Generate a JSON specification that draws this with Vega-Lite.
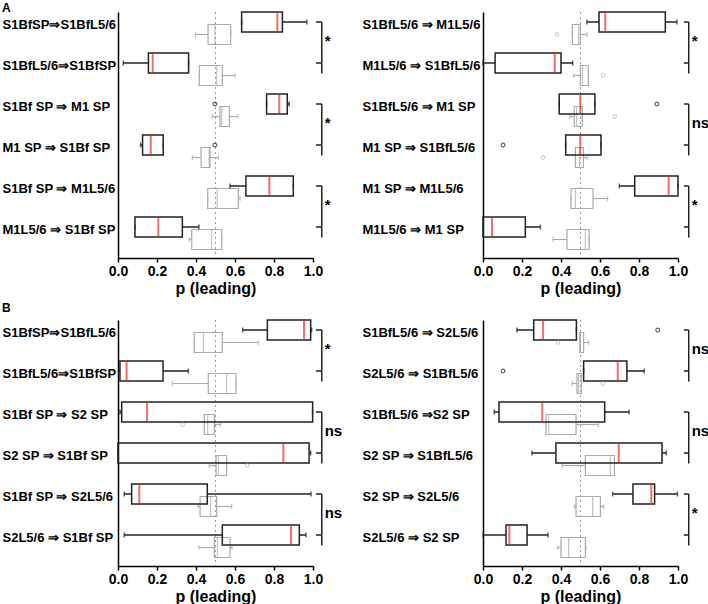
{
 "$schema": "https://vega.github.io/schema/vega-lite/v6.json",
 "padding": {"left": 2, "top": 2, "right": 0, "bottom": 0},
 "background": "white",
 "config": {
  "view": {"stroke": null},
  "font": "Liberation Sans",
  "axisX": {"domainColor": "#000", "domainWidth": 1.5, "tickColor": "#000", "tickWidth": 1.5, "tickSize": 4, "labelFontSize": 14, "labelFontWeight": "bold", "labelColor": "#000", "labelPadding": 2, "labelFlush": false, "values": [0, 0.2, 0.4, 0.6, 0.8, 1.0], "format": ".1f", "grid": false, "titleFontSize": 16, "titleFontWeight": "bold", "titleColor": "#000", "titlePadding": 2},
  "axisY": {"domainColor": "#000", "domainWidth": 1.5, "ticks": false, "tickSize": 0, "labelAlign": "left", "labelFontSize": 13, "labelFontWeight": "bold", "labelColor": "#000", "labelOffset": -8, "grid": false}
 },
 "datasets": {
  "chance": [{"p": 0.5}],
  "boxes": [
   {"panel":"A1","cond":"S1BfSP⇒S1BfL5/6","kind":"o","lo":0.634,"q1":0.634,"med":0.817,"q3":0.843,"hi":0.968},
   {"panel":"A1","cond":"S1BfSP⇒S1BfL5/6","kind":"s","lo":0.398,"q1":0.462,"med":0.497,"q3":0.578,"hi":0.578},
   {"panel":"A1","cond":"S1BfL5/6⇒S1BfSP","kind":"o","lo":0.027,"q1":0.156,"med":0.178,"q3":0.362,"hi":0.362},
   {"panel":"A1","cond":"S1BfL5/6⇒S1BfSP","kind":"s","lo":0.417,"q1":0.417,"med":0.506,"q3":0.535,"hi":0.600},
   {"panel":"A1","cond":"S1Bf SP ⇒ M1 SP","kind":"o","lo":0.762,"q1":0.762,"med":0.827,"q3":0.868,"hi":0.878},
   {"panel":"A1","cond":"S1Bf SP ⇒ M1 SP","kind":"s","lo":0.482,"q1":0.523,"med":0.532,"q3":0.571,"hi":0.615},
   {"panel":"A1","cond":"M1 SP ⇒ S1Bf SP","kind":"o","lo":0.116,"q1":0.126,"med":0.168,"q3":0.232,"hi":0.232},
   {"panel":"A1","cond":"M1 SP ⇒ S1Bf SP","kind":"s","lo":0.381,"q1":0.426,"med":0.467,"q3":0.472,"hi":0.515},
   {"panel":"A1","cond":"S1Bf SP ⇒ M1L5/6","kind":"o","lo":0.574,"q1":0.656,"med":0.776,"q3":0.899,"hi":0.899},
   {"panel":"A1","cond":"S1Bf SP ⇒ M1L5/6","kind":"s","lo":0.460,"q1":0.460,"med":0.509,"q3":0.617,"hi":0.626},
   {"panel":"A1","cond":"M1L5/6 ⇒ S1Bf SP","kind":"o","lo":0.087,"q1":0.087,"med":0.207,"q3":0.330,"hi":0.415},
   {"panel":"A1","cond":"M1L5/6 ⇒ S1Bf SP","kind":"s","lo":0.366,"q1":0.378,"med":0.480,"q3":0.532,"hi":0.532},

   {"panel":"A2","cond":"S1BfL5/6 ⇒ M1L5/6","kind":"o","lo":0.533,"q1":0.595,"med":0.627,"q3":0.935,"hi":0.995},
   {"panel":"A2","cond":"S1BfL5/6 ⇒ M1L5/6","kind":"s","lo":0.458,"q1":0.458,"med":0.490,"q3":0.499,"hi":0.533},
   {"panel":"A2","cond":"M1L5/6 ⇒ S1BfL5/6","kind":"o","lo":0.0,"q1":0.062,"med":0.368,"q3":0.400,"hi":0.460},
   {"panel":"A2","cond":"M1L5/6 ⇒ S1BfL5/6","kind":"s","lo":0.465,"q1":0.499,"med":0.510,"q3":0.540,"hi":0.540},
   {"panel":"A2","cond":"S1BfL5/6 ⇒ M1 SP","kind":"o","lo":0.391,"q1":0.391,"med":0.499,"q3":0.574,"hi":0.574},
   {"panel":"A2","cond":"S1BfL5/6 ⇒ M1 SP","kind":"s","lo":0.444,"q1":0.468,"med":0.480,"q3":0.509,"hi":0.509},
   {"panel":"A2","cond":"M1 SP ⇒ S1BfL5/6","kind":"o","lo":0.424,"q1":0.424,"med":0.499,"q3":0.605,"hi":0.605},
   {"panel":"A2","cond":"M1 SP ⇒ S1BfL5/6","kind":"s","lo":0.474,"q1":0.474,"med":0.495,"q3":0.515,"hi":0.533},
   {"panel":"A2","cond":"M1 SP ⇒ M1L5/6","kind":"o","lo":0.699,"q1":0.778,"med":0.952,"q3":1.0,"hi":1.0},
   {"panel":"A2","cond":"M1 SP ⇒ M1L5/6","kind":"s","lo":0.451,"q1":0.451,"med":0.474,"q3":0.564,"hi":0.639},
   {"panel":"A2","cond":"M1L5/6 ⇒ M1 SP","kind":"o","lo":0.0,"q1":0.0,"med":0.046,"q3":0.217,"hi":0.294},
   {"panel":"A2","cond":"M1L5/6 ⇒ M1 SP","kind":"s","lo":0.359,"q1":0.431,"med":0.525,"q3":0.544,"hi":0.544},

   {"panel":"B1","cond":"S1BfSP⇒S1BfL5/6","kind":"o","lo":0.639,"q1":0.766,"med":0.954,"q3":0.988,"hi":0.993},
   {"panel":"B1","cond":"S1BfSP⇒S1BfL5/6","kind":"s","lo":0.391,"q1":0.391,"med":0.438,"q3":0.535,"hi":0.720},
   {"panel":"B1","cond":"S1BfL5/6⇒S1BfSP","kind":"o","lo":0.003,"q1":0.010,"med":0.044,"q3":0.231,"hi":0.361},
   {"panel":"B1","cond":"S1BfL5/6⇒S1BfSP","kind":"s","lo":0.279,"q1":0.463,"med":0.557,"q3":0.605,"hi":0.605},
   {"panel":"B1","cond":"S1Bf SP ⇒ S2 SP","kind":"o","lo":0.010,"q1":0.019,"med":0.149,"q3":0.998,"hi":0.998},
   {"panel":"B1","cond":"S1Bf SP ⇒ S2 SP","kind":"s","lo":0.443,"q1":0.443,"med":0.460,"q3":0.494,"hi":0.526},
   {"panel":"B1","cond":"S2 SP ⇒ S1Bf SP","kind":"o","lo":0.0,"q1":0.0,"med":0.848,"q3":0.980,"hi":0.988},
   {"panel":"B1","cond":"S2 SP ⇒ S1Bf SP","kind":"s","lo":0.468,"q1":0.503,"med":0.515,"q3":0.557,"hi":0.557},
   {"panel":"B1","cond":"S1Bf SP ⇒ S2L5/6","kind":"o","lo":0.032,"q1":0.070,"med":0.109,"q3":0.458,"hi":0.990},
   {"panel":"B1","cond":"S1Bf SP ⇒ S2L5/6","kind":"s","lo":0.410,"q1":0.421,"med":0.475,"q3":0.506,"hi":0.583},
   {"panel":"B1","cond":"S2L5/6 ⇒ S1Bf SP","kind":"o","lo":0.032,"q1":0.535,"med":0.887,"q3":0.930,"hi":0.964},
   {"panel":"B1","cond":"S2L5/6 ⇒ S1Bf SP","kind":"s","lo":0.415,"q1":0.494,"med":0.510,"q3":0.574,"hi":0.585},

   {"panel":"B2","cond":"S1BfL5/6 ⇒ S2L5/6","kind":"o","lo":0.174,"q1":0.260,"med":0.308,"q3":0.479,"hi":0.479},
   {"panel":"B2","cond":"S1BfL5/6 ⇒ S2L5/6","kind":"s","lo":0.496,"q1":0.496,"med":0.500,"q3":0.516,"hi":0.542},
   {"panel":"B2","cond":"S2L5/6 ⇒ S1BfL5/6","kind":"o","lo":0.516,"q1":0.516,"med":0.691,"q3":0.738,"hi":0.827},
   {"panel":"B2","cond":"S2L5/6 ⇒ S1BfL5/6","kind":"s","lo":0.458,"q1":0.482,"med":0.490,"q3":0.504,"hi":0.504},
   {"panel":"B2","cond":"S1BfL5/6 ⇒S2 SP","kind":"o","lo":0.058,"q1":0.082,"med":0.304,"q3":0.624,"hi":0.749},
   {"panel":"B2","cond":"S1BfL5/6 ⇒S2 SP","kind":"s","lo":0.323,"q1":0.323,"med":0.337,"q3":0.477,"hi":0.593},
   {"panel":"B2","cond":"S2 SP ⇒ S1BfL5/6","kind":"o","lo":0.251,"q1":0.374,"med":0.696,"q3":0.918,"hi":0.940},
   {"panel":"B2","cond":"S2 SP ⇒ S1BfL5/6","kind":"s","lo":0.407,"q1":0.525,"med":0.653,"q3":0.674,"hi":0.674},
   {"panel":"B2","cond":"S2 SP ⇒ S2L5/6","kind":"o","lo":0.665,"q1":0.769,"med":0.863,"q3":0.880,"hi":0.997},
   {"panel":"B2","cond":"S2 SP ⇒ S2L5/6","kind":"s","lo":0.469,"q1":0.477,"med":0.562,"q3":0.602,"hi":0.619},
   {"panel":"B2","cond":"S2L5/6 ⇒ S2 SP","kind":"o","lo":0.0,"q1":0.118,"med":0.135,"q3":0.226,"hi":0.333},
   {"panel":"B2","cond":"S2L5/6 ⇒ S2 SP","kind":"s","lo":0.383,"q1":0.400,"med":0.439,"q3":0.525,"hi":0.528}
  ],
  "outliers": [
   {"panel":"A1","cond":"S1Bf SP ⇒ M1 SP","kind":"o","p":0.497},
   {"panel":"A1","cond":"M1 SP ⇒ S1Bf SP","kind":"o","p":0.497},
   {"panel":"A2","cond":"S1BfL5/6 ⇒ M1L5/6","kind":"s","p":0.379},
   {"panel":"A2","cond":"M1L5/6 ⇒ S1BfL5/6","kind":"s","p":0.615},
   {"panel":"A2","cond":"S1BfL5/6 ⇒ M1 SP","kind":"o","p":0.892},
   {"panel":"A2","cond":"S1BfL5/6 ⇒ M1 SP","kind":"s","p":0.675},
   {"panel":"A2","cond":"M1 SP ⇒ S1BfL5/6","kind":"o","p":0.103},
   {"panel":"A2","cond":"M1 SP ⇒ S1BfL5/6","kind":"s","p":0.308},
   {"panel":"B1","cond":"S1Bf SP ⇒ S2 SP","kind":"s","p":0.332},
   {"panel":"B1","cond":"S2 SP ⇒ S1Bf SP","kind":"s","p":0.663},
   {"panel":"B2","cond":"S1BfL5/6 ⇒ S2L5/6","kind":"o","p":0.896},
   {"panel":"B2","cond":"S1BfL5/6 ⇒ S2L5/6","kind":"s","p":0.385},
   {"panel":"B2","cond":"S2L5/6 ⇒ S1BfL5/6","kind":"o","p":0.103},
   {"panel":"B2","cond":"S2L5/6 ⇒ S1BfL5/6","kind":"s","p":0.615}
  ],
  "brackets": [
   {"panel":"A1","top":"S1BfSP⇒S1BfL5/6","bottom":"S1BfL5/6⇒S1BfSP","sig":"*"},
   {"panel":"A1","top":"S1Bf SP ⇒ M1 SP","bottom":"M1 SP ⇒ S1Bf SP","sig":"*"},
   {"panel":"A1","top":"S1Bf SP ⇒ M1L5/6","bottom":"M1L5/6 ⇒ S1Bf SP","sig":"*"},
   {"panel":"A2","top":"S1BfL5/6 ⇒ M1L5/6","bottom":"M1L5/6 ⇒ S1BfL5/6","sig":"*"},
   {"panel":"A2","top":"S1BfL5/6 ⇒ M1 SP","bottom":"M1 SP ⇒ S1BfL5/6","sig":"ns"},
   {"panel":"A2","top":"M1 SP ⇒ M1L5/6","bottom":"M1L5/6 ⇒ M1 SP","sig":"*"},
   {"panel":"B1","top":"S1BfSP⇒S1BfL5/6","bottom":"S1BfL5/6⇒S1BfSP","sig":"*"},
   {"panel":"B1","top":"S1Bf SP ⇒ S2 SP","bottom":"S2 SP ⇒ S1Bf SP","sig":"ns"},
   {"panel":"B1","top":"S1Bf SP ⇒ S2L5/6","bottom":"S2L5/6 ⇒ S1Bf SP","sig":"ns"},
   {"panel":"B2","top":"S1BfL5/6 ⇒ S2L5/6","bottom":"S2L5/6 ⇒ S1BfL5/6","sig":"ns"},
   {"panel":"B2","top":"S1BfL5/6 ⇒S2 SP","bottom":"S2 SP ⇒ S1BfL5/6","sig":"ns"},
   {"panel":"B2","top":"S2 SP ⇒ S2L5/6","bottom":"S2L5/6 ⇒ S2 SP","sig":"*"}
  ]
 },
 "columns": 2,
 "spacing": {"row": 62, "column": 170},
 "bounds": "flush",
 "concat": [
  {
   "width": 195, "height": 246,
   "title": {"text": "A", "anchor": "start", "fontSize": 12, "fontWeight": "bold", "offset": -4, "frame": "bounds", "color": "#000"},
   "layer": [
    {"data": {"name": "chance"}, "mark": {"type": "rule", "color": "#9a9a9a", "strokeDash": [2, 3], "strokeWidth": 1}, "encoding": {"x": {"field": "p", "type": "quantitative", "scale": {"domain": [0, 1], "nice": false}, "title": "p (leading)"}}},
    {"data": {"name": "boxes"}, "transform": [{"filter": "datum.panel === 'A1'"}],
     "encoding": {"y": {"field": "cond", "type": "nominal", "title": null, "scale": {"domain": ["S1BfSP⇒S1BfL5/6", "S1BfL5/6⇒S1BfSP", "S1Bf SP ⇒ M1 SP", "M1 SP ⇒ S1Bf SP", "S1Bf SP ⇒ M1L5/6", "M1L5/6 ⇒ S1Bf SP"], "paddingInner": 0, "paddingOuter": 0}, "axis": {"labelPadding": 116}}},
     "layer": [
      {"transform": [{"filter": "datum.kind === 's'"}], "layer": [
       {"mark": {"type": "rule", "color": "#aaa", "strokeWidth": 1.2, "yOffset": 2}, "encoding": {"x": {"field": "lo", "type": "quantitative"}, "x2": {"field": "q1"}}},
       {"mark": {"type": "rule", "color": "#aaa", "strokeWidth": 1.2, "yOffset": 2}, "encoding": {"x": {"field": "q3", "type": "quantitative"}, "x2": {"field": "hi"}}},
       {"transform": [{"fold": ["lo", "hi"], "as": ["end", "v"]}], "mark": {"type": "tick", "color": "#aaa", "size": 5, "thickness": 1.2, "yOffset": 2}, "encoding": {"x": {"field": "v", "type": "quantitative"}}},
       {"mark": {"type": "bar", "filled": false, "color": "#aaa", "strokeWidth": 1.2, "size": 20, "yOffset": 2}, "encoding": {"x": {"field": "q1", "type": "quantitative"}, "x2": {"field": "q3"}}},
       {"mark": {"type": "tick", "color": "#aaa", "size": 20, "thickness": 1.2, "yOffset": 2}, "encoding": {"x": {"field": "med", "type": "quantitative"}}}
      ]},
      {"transform": [{"filter": "datum.kind === 'o'"}], "layer": [
       {"mark": {"type": "rule", "color": "#222", "strokeWidth": 1.5, "yOffset": -10.5}, "encoding": {"x": {"field": "lo", "type": "quantitative"}, "x2": {"field": "q1"}}},
       {"mark": {"type": "rule", "color": "#222", "strokeWidth": 1.5, "yOffset": -10.5}, "encoding": {"x": {"field": "q3", "type": "quantitative"}, "x2": {"field": "hi"}}},
       {"transform": [{"fold": ["lo", "hi"], "as": ["end", "v"]}], "mark": {"type": "tick", "color": "#222", "size": 5, "thickness": 1.5, "yOffset": -10.5}, "encoding": {"x": {"field": "v", "type": "quantitative"}}},
       {"mark": {"type": "bar", "filled": false, "color": "#222", "strokeWidth": 1.5, "size": 20, "yOffset": -10.5}, "encoding": {"x": {"field": "q1", "type": "quantitative"}, "x2": {"field": "q3"}}},
       {"mark": {"type": "tick", "color": "#e8302c", "size": 19, "thickness": 2, "yOffset": -10.5}, "encoding": {"x": {"field": "med", "type": "quantitative"}}}
      ]}
     ]},
    {"data": {"name": "outliers"}, "transform": [{"filter": "datum.panel === 'A1'"}],
     "encoding": {"y": {"field": "cond", "type": "nominal", "title": null}, "x": {"field": "p", "type": "quantitative"}},
     "layer": [
      {"transform": [{"filter": "datum.kind === 's'"}], "mark": {"type": "point", "shape": "circle", "filled": false, "color": "#aaa", "size": 14, "strokeWidth": 1, "yOffset": 2}},
      {"transform": [{"filter": "datum.kind === 'o'"}], "mark": {"type": "point", "shape": "circle", "filled": false, "color": "#222", "size": 14, "strokeWidth": 1.2, "yOffset": -10.5}}
     ]},
    {"data": {"name": "brackets"}, "transform": [{"filter": "datum.panel === 'A1'"}],
     "layer": [
      {"mark": {"type": "rule", "color": "#222", "strokeWidth": 1.5, "yOffset": -10.5}, "encoding": {"x": {"datum": 1.045}, "y": {"field": "top", "type": "nominal", "title": null}, "y2": {"field": "bottom"}}},
      {"transform": [{"fold": ["top", "bottom"], "as": ["end", "cond"]}], "mark": {"type": "rule", "color": "#222", "strokeWidth": 1.5, "yOffset": -10.5}, "encoding": {"x": {"datum": 1.015}, "x2": {"datum": 1.045}, "y": {"field": "cond", "type": "nominal", "title": null}}},
      {"mark": {"type": "text", "align": "left", "baseline": "middle", "fontSize": 15, "fontWeight": "bold", "color": "#000", "dy": 8}, "encoding": {"x": {"datum": 1.06}, "y": {"field": "top", "type": "nominal", "title": null}, "text": {"field": "sig"}}}
     ]}
   ]
  },
  {
   "width": 195, "height": 246,
   "layer": [
    {"data": {"name": "chance"}, "mark": {"type": "rule", "color": "#9a9a9a", "strokeDash": [2, 3], "strokeWidth": 1}, "encoding": {"x": {"field": "p", "type": "quantitative", "scale": {"domain": [0, 1], "nice": false}, "title": "p (leading)"}}},
    {"data": {"name": "boxes"}, "transform": [{"filter": "datum.panel === 'A2'"}],
     "encoding": {"y": {"field": "cond", "type": "nominal", "title": null, "scale": {"domain": ["S1BfL5/6 ⇒ M1L5/6", "M1L5/6 ⇒ S1BfL5/6", "S1BfL5/6 ⇒ M1 SP", "M1 SP ⇒ S1BfL5/6", "M1 SP ⇒ M1L5/6", "M1L5/6 ⇒ M1 SP"], "paddingInner": 0, "paddingOuter": 0}, "axis": {"labelPadding": 121}}},
     "layer": [
      {"transform": [{"filter": "datum.kind === 's'"}], "layer": [
       {"mark": {"type": "rule", "color": "#aaa", "strokeWidth": 1.2, "yOffset": 2}, "encoding": {"x": {"field": "lo", "type": "quantitative"}, "x2": {"field": "q1"}}},
       {"mark": {"type": "rule", "color": "#aaa", "strokeWidth": 1.2, "yOffset": 2}, "encoding": {"x": {"field": "q3", "type": "quantitative"}, "x2": {"field": "hi"}}},
       {"transform": [{"fold": ["lo", "hi"], "as": ["end", "v"]}], "mark": {"type": "tick", "color": "#aaa", "size": 5, "thickness": 1.2, "yOffset": 2}, "encoding": {"x": {"field": "v", "type": "quantitative"}}},
       {"mark": {"type": "bar", "filled": false, "color": "#aaa", "strokeWidth": 1.2, "size": 20, "yOffset": 2}, "encoding": {"x": {"field": "q1", "type": "quantitative"}, "x2": {"field": "q3"}}},
       {"mark": {"type": "tick", "color": "#aaa", "size": 20, "thickness": 1.2, "yOffset": 2}, "encoding": {"x": {"field": "med", "type": "quantitative"}}}
      ]},
      {"transform": [{"filter": "datum.kind === 'o'"}], "layer": [
       {"mark": {"type": "rule", "color": "#222", "strokeWidth": 1.5, "yOffset": -10.5}, "encoding": {"x": {"field": "lo", "type": "quantitative"}, "x2": {"field": "q1"}}},
       {"mark": {"type": "rule", "color": "#222", "strokeWidth": 1.5, "yOffset": -10.5}, "encoding": {"x": {"field": "q3", "type": "quantitative"}, "x2": {"field": "hi"}}},
       {"transform": [{"fold": ["lo", "hi"], "as": ["end", "v"]}], "mark": {"type": "tick", "color": "#222", "size": 5, "thickness": 1.5, "yOffset": -10.5}, "encoding": {"x": {"field": "v", "type": "quantitative"}}},
       {"mark": {"type": "bar", "filled": false, "color": "#222", "strokeWidth": 1.5, "size": 20, "yOffset": -10.5}, "encoding": {"x": {"field": "q1", "type": "quantitative"}, "x2": {"field": "q3"}}},
       {"mark": {"type": "tick", "color": "#e8302c", "size": 19, "thickness": 2, "yOffset": -10.5}, "encoding": {"x": {"field": "med", "type": "quantitative"}}}
      ]}
     ]},
    {"data": {"name": "outliers"}, "transform": [{"filter": "datum.panel === 'A2'"}],
     "encoding": {"y": {"field": "cond", "type": "nominal", "title": null}, "x": {"field": "p", "type": "quantitative"}},
     "layer": [
      {"transform": [{"filter": "datum.kind === 's'"}], "mark": {"type": "point", "shape": "circle", "filled": false, "color": "#aaa", "size": 14, "strokeWidth": 1, "yOffset": 2}},
      {"transform": [{"filter": "datum.kind === 'o'"}], "mark": {"type": "point", "shape": "circle", "filled": false, "color": "#222", "size": 14, "strokeWidth": 1.2, "yOffset": -10.5}}
     ]},
    {"data": {"name": "brackets"}, "transform": [{"filter": "datum.panel === 'A2'"}],
     "layer": [
      {"mark": {"type": "rule", "color": "#222", "strokeWidth": 1.5, "yOffset": -10.5}, "encoding": {"x": {"datum": 1.055}, "y": {"field": "top", "type": "nominal", "title": null}, "y2": {"field": "bottom"}}},
      {"transform": [{"fold": ["top", "bottom"], "as": ["end", "cond"]}], "mark": {"type": "rule", "color": "#222", "strokeWidth": 1.5, "yOffset": -10.5}, "encoding": {"x": {"datum": 1.03}, "x2": {"datum": 1.055}, "y": {"field": "cond", "type": "nominal", "title": null}}},
      {"mark": {"type": "text", "align": "left", "baseline": "middle", "fontSize": 15, "fontWeight": "bold", "color": "#000", "dy": 8}, "encoding": {"x": {"datum": 1.07}, "y": {"field": "top", "type": "nominal", "title": null}, "text": {"field": "sig"}}}
     ]}
   ]
  },
  {
   "width": 195, "height": 246,
   "title": {"text": "B", "anchor": "start", "fontSize": 12, "fontWeight": "bold", "offset": 4, "frame": "bounds", "color": "#000"},
   "layer": [
    {"data": {"name": "chance"}, "mark": {"type": "rule", "color": "#9a9a9a", "strokeDash": [2, 3], "strokeWidth": 1}, "encoding": {"x": {"field": "p", "type": "quantitative", "scale": {"domain": [0, 1], "nice": false}, "title": "p (leading)"}}},
    {"data": {"name": "boxes"}, "transform": [{"filter": "datum.panel === 'B1'"}],
     "encoding": {"y": {"field": "cond", "type": "nominal", "title": null, "scale": {"domain": ["S1BfSP⇒S1BfL5/6", "S1BfL5/6⇒S1BfSP", "S1Bf SP ⇒ S2 SP", "S2 SP ⇒ S1Bf SP", "S1Bf SP ⇒ S2L5/6", "S2L5/6 ⇒ S1Bf SP"], "paddingInner": 0, "paddingOuter": 0}, "axis": {"labelPadding": 116}}},
     "layer": [
      {"transform": [{"filter": "datum.kind === 's'"}], "layer": [
       {"mark": {"type": "rule", "color": "#aaa", "strokeWidth": 1.2, "yOffset": 2}, "encoding": {"x": {"field": "lo", "type": "quantitative"}, "x2": {"field": "q1"}}},
       {"mark": {"type": "rule", "color": "#aaa", "strokeWidth": 1.2, "yOffset": 2}, "encoding": {"x": {"field": "q3", "type": "quantitative"}, "x2": {"field": "hi"}}},
       {"transform": [{"fold": ["lo", "hi"], "as": ["end", "v"]}], "mark": {"type": "tick", "color": "#aaa", "size": 5, "thickness": 1.2, "yOffset": 2}, "encoding": {"x": {"field": "v", "type": "quantitative"}}},
       {"mark": {"type": "bar", "filled": false, "color": "#aaa", "strokeWidth": 1.2, "size": 20, "yOffset": 2}, "encoding": {"x": {"field": "q1", "type": "quantitative"}, "x2": {"field": "q3"}}},
       {"mark": {"type": "tick", "color": "#aaa", "size": 20, "thickness": 1.2, "yOffset": 2}, "encoding": {"x": {"field": "med", "type": "quantitative"}}}
      ]},
      {"transform": [{"filter": "datum.kind === 'o'"}], "layer": [
       {"mark": {"type": "rule", "color": "#222", "strokeWidth": 1.5, "yOffset": -10.5}, "encoding": {"x": {"field": "lo", "type": "quantitative"}, "x2": {"field": "q1"}}},
       {"mark": {"type": "rule", "color": "#222", "strokeWidth": 1.5, "yOffset": -10.5}, "encoding": {"x": {"field": "q3", "type": "quantitative"}, "x2": {"field": "hi"}}},
       {"transform": [{"fold": ["lo", "hi"], "as": ["end", "v"]}], "mark": {"type": "tick", "color": "#222", "size": 5, "thickness": 1.5, "yOffset": -10.5}, "encoding": {"x": {"field": "v", "type": "quantitative"}}},
       {"mark": {"type": "bar", "filled": false, "color": "#222", "strokeWidth": 1.5, "size": 20, "yOffset": -10.5}, "encoding": {"x": {"field": "q1", "type": "quantitative"}, "x2": {"field": "q3"}}},
       {"mark": {"type": "tick", "color": "#e8302c", "size": 19, "thickness": 2, "yOffset": -10.5}, "encoding": {"x": {"field": "med", "type": "quantitative"}}}
      ]}
     ]},
    {"data": {"name": "outliers"}, "transform": [{"filter": "datum.panel === 'B1'"}],
     "encoding": {"y": {"field": "cond", "type": "nominal", "title": null}, "x": {"field": "p", "type": "quantitative"}},
     "layer": [
      {"transform": [{"filter": "datum.kind === 's'"}], "mark": {"type": "point", "shape": "circle", "filled": false, "color": "#aaa", "size": 14, "strokeWidth": 1, "yOffset": 2}},
      {"transform": [{"filter": "datum.kind === 'o'"}], "mark": {"type": "point", "shape": "circle", "filled": false, "color": "#222", "size": 14, "strokeWidth": 1.2, "yOffset": -10.5}}
     ]},
    {"data": {"name": "brackets"}, "transform": [{"filter": "datum.panel === 'B1'"}],
     "layer": [
      {"mark": {"type": "rule", "color": "#222", "strokeWidth": 1.5, "yOffset": -10.5}, "encoding": {"x": {"datum": 1.045}, "y": {"field": "top", "type": "nominal", "title": null}, "y2": {"field": "bottom"}}},
      {"transform": [{"fold": ["top", "bottom"], "as": ["end", "cond"]}], "mark": {"type": "rule", "color": "#222", "strokeWidth": 1.5, "yOffset": -10.5}, "encoding": {"x": {"datum": 1.015}, "x2": {"datum": 1.045}, "y": {"field": "cond", "type": "nominal", "title": null}}},
      {"mark": {"type": "text", "align": "left", "baseline": "middle", "fontSize": 15, "fontWeight": "bold", "color": "#000", "dy": 8}, "encoding": {"x": {"datum": 1.06}, "y": {"field": "top", "type": "nominal", "title": null}, "text": {"field": "sig"}}}
     ]}
   ]
  },
  {
   "width": 195, "height": 246,
   "layer": [
    {"data": {"name": "chance"}, "mark": {"type": "rule", "color": "#9a9a9a", "strokeDash": [2, 3], "strokeWidth": 1}, "encoding": {"x": {"field": "p", "type": "quantitative", "scale": {"domain": [0, 1], "nice": false}, "title": "p (leading)"}}},
    {"data": {"name": "boxes"}, "transform": [{"filter": "datum.panel === 'B2'"}],
     "encoding": {"y": {"field": "cond", "type": "nominal", "title": null, "scale": {"domain": ["S1BfL5/6 ⇒ S2L5/6", "S2L5/6 ⇒ S1BfL5/6", "S1BfL5/6 ⇒S2 SP", "S2 SP ⇒ S1BfL5/6", "S2 SP ⇒ S2L5/6", "S2L5/6 ⇒ S2 SP"], "paddingInner": 0, "paddingOuter": 0}, "axis": {"labelPadding": 121}}},
     "layer": [
      {"transform": [{"filter": "datum.kind === 's'"}], "layer": [
       {"mark": {"type": "rule", "color": "#aaa", "strokeWidth": 1.2, "yOffset": 2}, "encoding": {"x": {"field": "lo", "type": "quantitative"}, "x2": {"field": "q1"}}},
       {"mark": {"type": "rule", "color": "#aaa", "strokeWidth": 1.2, "yOffset": 2}, "encoding": {"x": {"field": "q3", "type": "quantitative"}, "x2": {"field": "hi"}}},
       {"transform": [{"fold": ["lo", "hi"], "as": ["end", "v"]}], "mark": {"type": "tick", "color": "#aaa", "size": 5, "thickness": 1.2, "yOffset": 2}, "encoding": {"x": {"field": "v", "type": "quantitative"}}},
       {"mark": {"type": "bar", "filled": false, "color": "#aaa", "strokeWidth": 1.2, "size": 20, "yOffset": 2}, "encoding": {"x": {"field": "q1", "type": "quantitative"}, "x2": {"field": "q3"}}},
       {"mark": {"type": "tick", "color": "#aaa", "size": 20, "thickness": 1.2, "yOffset": 2}, "encoding": {"x": {"field": "med", "type": "quantitative"}}}
      ]},
      {"transform": [{"filter": "datum.kind === 'o'"}], "layer": [
       {"mark": {"type": "rule", "color": "#222", "strokeWidth": 1.5, "yOffset": -10.5}, "encoding": {"x": {"field": "lo", "type": "quantitative"}, "x2": {"field": "q1"}}},
       {"mark": {"type": "rule", "color": "#222", "strokeWidth": 1.5, "yOffset": -10.5}, "encoding": {"x": {"field": "q3", "type": "quantitative"}, "x2": {"field": "hi"}}},
       {"transform": [{"fold": ["lo", "hi"], "as": ["end", "v"]}], "mark": {"type": "tick", "color": "#222", "size": 5, "thickness": 1.5, "yOffset": -10.5}, "encoding": {"x": {"field": "v", "type": "quantitative"}}},
       {"mark": {"type": "bar", "filled": false, "color": "#222", "strokeWidth": 1.5, "size": 20, "yOffset": -10.5}, "encoding": {"x": {"field": "q1", "type": "quantitative"}, "x2": {"field": "q3"}}},
       {"mark": {"type": "tick", "color": "#e8302c", "size": 19, "thickness": 2, "yOffset": -10.5}, "encoding": {"x": {"field": "med", "type": "quantitative"}}}
      ]}
     ]},
    {"data": {"name": "outliers"}, "transform": [{"filter": "datum.panel === 'B2'"}],
     "encoding": {"y": {"field": "cond", "type": "nominal", "title": null}, "x": {"field": "p", "type": "quantitative"}},
     "layer": [
      {"transform": [{"filter": "datum.kind === 's'"}], "mark": {"type": "point", "shape": "circle", "filled": false, "color": "#aaa", "size": 14, "strokeWidth": 1, "yOffset": 2}},
      {"transform": [{"filter": "datum.kind === 'o'"}], "mark": {"type": "point", "shape": "circle", "filled": false, "color": "#222", "size": 14, "strokeWidth": 1.2, "yOffset": -10.5}}
     ]},
    {"data": {"name": "brackets"}, "transform": [{"filter": "datum.panel === 'B2'"}],
     "layer": [
      {"mark": {"type": "rule", "color": "#222", "strokeWidth": 1.5, "yOffset": -10.5}, "encoding": {"x": {"datum": 1.055}, "y": {"field": "top", "type": "nominal", "title": null}, "y2": {"field": "bottom"}}},
      {"transform": [{"fold": ["top", "bottom"], "as": ["end", "cond"]}], "mark": {"type": "rule", "color": "#222", "strokeWidth": 1.5, "yOffset": -10.5}, "encoding": {"x": {"datum": 1.03}, "x2": {"datum": 1.055}, "y": {"field": "cond", "type": "nominal", "title": null}}},
      {"mark": {"type": "text", "align": "left", "baseline": "middle", "fontSize": 15, "fontWeight": "bold", "color": "#000", "dy": 8}, "encoding": {"x": {"datum": 1.07}, "y": {"field": "top", "type": "nominal", "title": null}, "text": {"field": "sig"}}}
     ]}
   ]
  }
 ]
}
